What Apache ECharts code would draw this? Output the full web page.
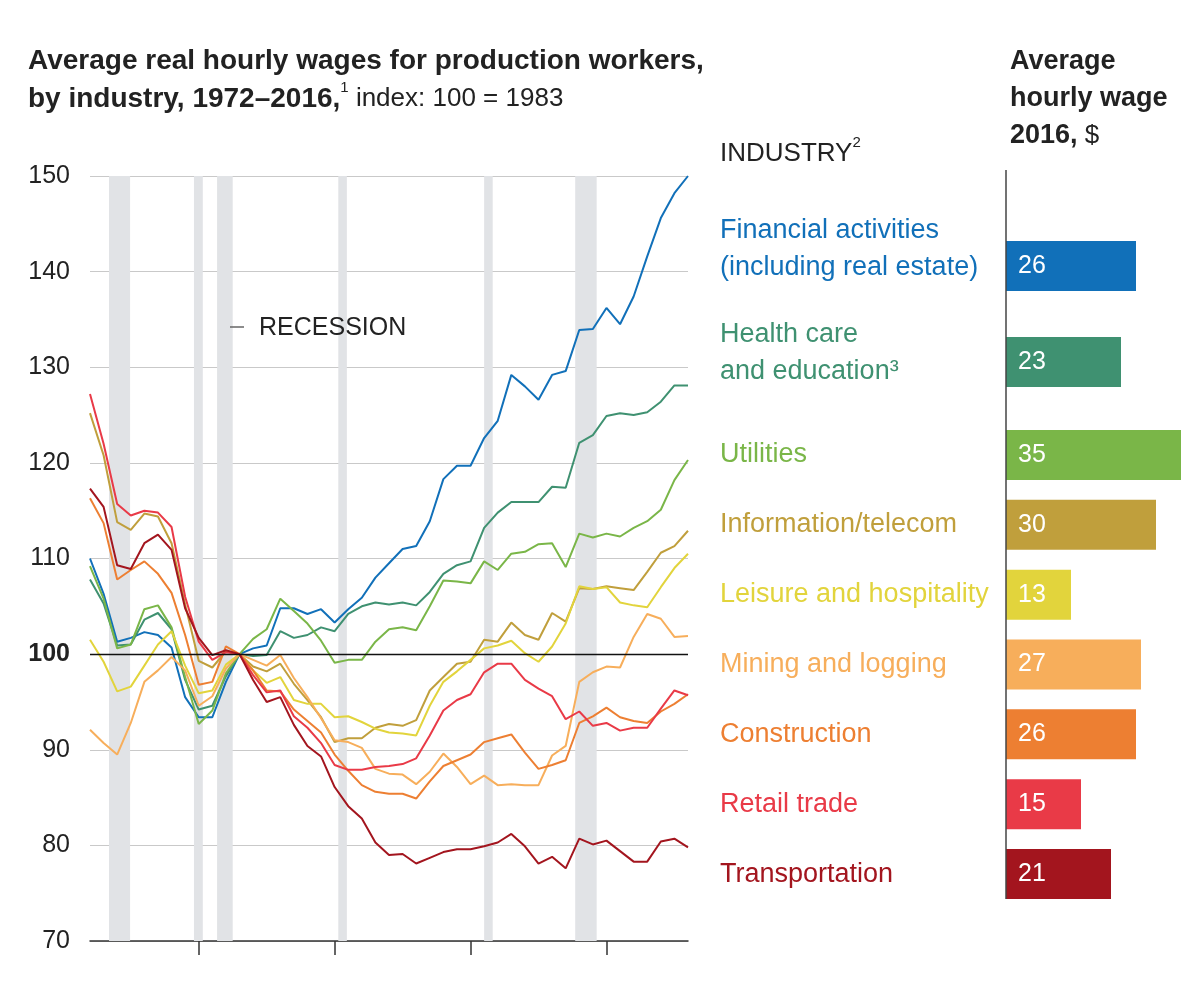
<!DOCTYPE html>
<html><head><meta charset="utf-8">
<script src="https://cdn.jsdelivr.net/npm/echarts@6/dist/echarts.min.js"></script>
<style>html,body{margin:0;padding:0;background:#fff}#c{width:1200px;height:993px}</style>
</head><body><div id="c"></div>
<script>
// ---------- DATA ----------
const years = [1972,1973,1974,1975,1976,1977,1978,1979,1980,1981,1982,1983,1984,1985,1986,1987,1988,1989,1990,1991,1992,1993,1994,1995,1996,1997,1998,1999,2000,2001,2002,2003,2004,2005,2006,2007,2008,2009,2010,2011,2012,2013,2014,2015,2016];

const financial = [110,106.3,101.3,101.7,102.3,102,100.7,95.5,93.4,93.4,97.1,100, 100.6,100.9,104.8,104.8,104.2,104.7,103.3,104.7,105.9,108, 109.5,111,111.3,113.9,118.3,119.7,119.7,122.6,124.4,129.2, 128,126.6,129.2,129.6,133.9,134,136.2,134.5,137.4,141.6, 145.6,148.2,150];
const health = [107.8,105.3,100.9,101,103.6,104.3,102.6,97.3,94.2,94.6,97.7,100, 99.8,99.9,102.4,101.7,102,102.8,102.4,104.2,105,105.4, 105.2,105.4,105.1,106.5,108.4,109.3,109.7,113.2,114.8,115.9, 115.9,115.9,117.5,117.4,122.1,122.9,124.9,125.2,125,125.3, 126.4,128.1,128.1];
const utilities = [109.2,105.8,100.6,101,104.7,105.1,102.8,97.6,92.7,94.1,98,100, 101.6,102.6,105.8,104.5,103.2,101.4,99.1,99.4,99.4,101.3, 102.6,102.8,102.5,105,107.7,107.6,107.4,109.7,108.8,110.5, 110.7,111.5,111.6,109.1,112.6,112.2,112.6,112.3,113.2,113.9, 115.1,118.2,120.3];
const info = [125.2,120.8,113.8,113,114.7,114.4,111.6,105.2,99.3,98.6,100.3,100, 98.7,98.2,99,96.9,95.2,93.4,90.8,91.2,91.2,92.3, 92.7,92.5,93.1,96.2,97.6,99,99.2,101.5,101.3,103.3, 102,101.5,104.3,103.4,106.9,106.8,107.1,106.9,106.7,108.6, 110.6,111.3,112.9];
const leisure = [101.5,99.2,96.1,96.6,98.8,101,102.4,98.8,95.9,96.2,98.9,100, 98.3,97,97.6,95.2,94.8,94.8,93.4,93.5,92.9,92.2, 91.8,91.7,91.5,94.6,97.1,98.2,99.4,100.6,100.9,101.4, 100.1,99.2,100.8,103.2,107.1,106.8,107,105.4,105.1,104.9, 107,109,110.5];
const mining = [92.1,90.7,89.5,92.8,97.1,98.3,99.7,98.3,94.6,95.6,98.5,100, 99.4,98.8,99.9,97.5,95.5,93.3,91,90.8,90.2,88, 87.5,87.4,86.4,87.7,89.6,88.2,86.4,87.3,86.3,86.4, 86.3,86.3,89.4,90.4,97.1,98.1,98.7,98.6,101.8,104.2, 103.7,101.8,101.9];
const construction = [116.3,113.7,107.8,108.8,109.7,108.4,106.4,102,96.8,97.1,100.8,100, 98.3,96.2,96.1,94.2,93,91.8,89.5,87.8,86.3,85.6, 85.4,85.4,84.9,86.7,88.3,88.9,89.5,90.8,91.2,91.6, 89.7,88,88.4,88.9,92.8,93.5,94.4,93.4,93,92.8, 94,94.8,95.8];
const retail = [127.2,122,115.7,114.5,115,114.8,113.3,106,101.3,99.4,100.2,100, 97.8,96,96.2,93.5,92.3,90.7,88.4,87.9,87.9,88.2, 88.3,88.5,89.1,91.5,94.1,95.2,95.8,98.1,99,99, 97.3,96.4,95.6,93.2,94,92.5,92.8,92,92.3,92.3, 94.3,96.2,95.7];
const transport = [117.3,115.4,109.3,108.9,111.6,112.5,110.9,104.8,101.7,99.9,100.4,100, 97.3,95,95.5,92.6,90.4,89.3,86.1,84.1,82.8,80.3, 79,79.1,78.1,78.7,79.3,79.6,79.6,79.9,80.3,81.2, 79.9,78.1,78.8,77.6,80.7,80.1,80.5,79.4,78.3,78.3, 80.4,80.7,79.8];

const industries = ['Financial activities\n(including real estate)','Health care\nand education\u00B3','Utilities','Information/telecom','Leisure and hospitality','Mining and logging','Construction','Retail trade','Transportation'];
const wages2016 = [26,23,35,30,13,27,26,15,21];
const recessions = [[1973.4,1974.95],[1979.65,1980.3],[1981.35,1982.5],[1990.27,1990.9],[2001.0,2001.63],[2007.7,2009.28]];
const yTicks = {min:70, max:150, interval:10};
const xTickYears = [1980,1990,2000,2010];

// ---------- STYLE ----------
const F = 'Liberation Sans, Arial, Helvetica, sans-serif';
const colors = ['#1170b9','#3f9171','#7ab648','#c09f3c','#e2d43c','#f7ae5b','#ed7f32','#e93a47','#a3151e'];
const seriesValues = [financial,health,utilities,info,leisure,mining,construction,retail,transport];
// extra blank line height (px) below a label, used to lift two-line labels
const labelLift = [33, 17, 0, 0, 0, 0, 0, 0, 0];

const colorByName = {}, liftByName = {};
industries.forEach((n,i)=>{colorByName[n]=colors[i]; liftByName[n]=labelLift[i];});
const liftRich = {t:{fontFamily:F, fontSize:27, lineHeight:37}};
labelLift.forEach(h=>{ if (h) liftRich['z'+h] = {fontSize:8, lineHeight:h}; });

const lineSeries = seriesValues.map((arr,i)=>({
  type:'line', name:industries[i], xAxisIndex:0, yAxisIndex:0,
  data: years.map((y,k)=>[y,arr[k]]),
  showSymbol:false, symbol:'none', z:3,
  lineStyle:{color:colors[i], width:2},
  itemStyle:{color:colors[i]}, silent:true, animation:false
}));

const topN = 2;
function catAxis(gridIndex, names){
  return {
    type:'category', gridIndex, inverse:true,
    data: names.map((n)=>({value:n, textStyle:{align:'left', color:colorByName[n]}})),
    axisLine:{show:false}, axisTick:{show:false},
    axisLabel:{interval:0, align:'left', margin:286, fontFamily:F, fontSize:27, lineHeight:37,
      color:(v)=>colorByName[v],
      formatter:(v)=>{
        const body = v.split('\n').map(l=>'{t|'+l+'}').join('\n');
        const lift = liftByName[v];
        return lift ? body + '\n{z' + lift + '| }' : body;
      },
      rich: liftRich}
  };
}
function barSeries(axisIdx, vals, cols){
  return {
    type:'bar', xAxisIndex:axisIdx, yAxisIndex:axisIdx, barWidth:50, animation:false, silent:true,
    data: vals.map((v,i)=>({value:v, itemStyle:{color:cols[i]}})),
    label:{show:true, position:'insideLeft', distance:12, color:'#fff', fontFamily:F, fontSize:25}
  };
}

const option = {
  animation:false,
  backgroundColor:'#fff',
  grid:[
    {left:90, right:512, top:176, bottom:52},
    {left:1006, width:190, top:218, height:192},
    {left:1006, width:190, top:420, height:489}
  ],
  xAxis:[
    {type:'value', gridIndex:0, min:years[0], max:years[years.length-1],
     axisLine:{show:true, lineStyle:{color:'#333', width:1.5}},
     axisTick:{show:true, customValues:xTickYears, length:14, lineStyle:{color:'#333', width:1.5}},
     axisLabel:{show:false, customValues:xTickYears}, splitLine:{show:false}},
    {type:'value', gridIndex:1, min:0, max:38, show:false},
    {type:'value', gridIndex:2, min:0, max:38, show:false}
  ],
  yAxis:[
    {type:'value', gridIndex:0, min:yTicks.min, max:yTicks.max, interval:yTicks.interval,
     axisLine:{show:false}, axisTick:{show:false},
     splitLine:{show:true, lineStyle:{color:'#c9c9c9', width:1}},
     axisLabel:{margin:20, fontFamily:F, fontSize:25, color:'#222',
       formatter:(v)=> v===100 ? '{b|100}' : String(v),
       rich:{b:{fontFamily:F, fontSize:25, fontWeight:'bold', color:'#222'}}}},
    catAxis(1, industries.slice(0,topN)),
    catAxis(2, industries.slice(topN))
  ],
  series:[
    {type:'line', xAxisIndex:0, yAxisIndex:0, data:[], z:1, silent:true,
     markArea:{silent:true, itemStyle:{color:'#e1e3e6'},
       data: recessions.map(r=>[{xAxis:r[0], yAxis:yTicks.min},{xAxis:r[1], yAxis:yTicks.max}])}},
    {type:'line', xAxisIndex:0, yAxisIndex:0, data:[], z:2, silent:true,
     markLine:{silent:true, symbol:'none', label:{show:false},
       lineStyle:{color:'#111', width:1.3, type:'solid'}, data:[{yAxis:100}]}},
    ...lineSeries,
    barSeries(1, wages2016.slice(0,topN), colors.slice(0,topN)),
    barSeries(2, wages2016.slice(topN), colors.slice(topN))
  ],
  graphic:[
    {type:'text', left:28, top:47, silent:true, z:100, style:{
      text:'{b|Average real hourly wages for production workers,}\n{b|by industry, 1972\u20132016,}{s|1}{r| index: 100 = 1983}',
      rich:{
        b:{fontFamily:F, fontSize:28, fontWeight:'bold', fill:'#222', lineHeight:38, verticalAlign:'middle'},
        r:{fontFamily:F, fontSize:26, fill:'#222', lineHeight:38, verticalAlign:'middle'},
        s:{fontFamily:F, fontSize:15, fill:'#222', lineHeight:22, verticalAlign:'top'}
      }}},
    {type:'text', left:1010, top:48, silent:true, z:100, style:{
      text:'{b|Average}\n{b|hourly wage}\n{b|2016,}{r| $}',
      rich:{
        b:{fontFamily:F, fontSize:27, fontWeight:'bold', fill:'#222', lineHeight:37, verticalAlign:'middle'},
        r:{fontFamily:F, fontSize:26, fill:'#222', lineHeight:37, verticalAlign:'middle'}
      }}},
    {type:'text', left:720, top:135, silent:true, z:100, style:{
      text:'{r|INDUSTRY}{s|2}',
      rich:{
        r:{fontFamily:F, fontSize:26, fill:'#222', lineHeight:38, verticalAlign:'middle'},
        s:{fontFamily:F, fontSize:15, fill:'#222', lineHeight:24, verticalAlign:'top'}
      }}},
    {type:'line', silent:true, z:100, shape:{x1:230, y1:327, x2:244, y2:327}, style:{stroke:'#666', lineWidth:1.5}},
    {type:'text', left:259, top:316, silent:true, z:100, style:{text:'RECESSION', fontFamily:F, fontSize:25, fill:'#222'}},
    {type:'line', silent:true, z:100, shape:{x1:1006, y1:170, x2:1006, y2:899}, style:{stroke:'#444', lineWidth:1.5}}
  ]
};
const chart = echarts.init(document.getElementById('c'), null, {renderer:'canvas'});
chart.setOption(option);
</script>
</body></html>
